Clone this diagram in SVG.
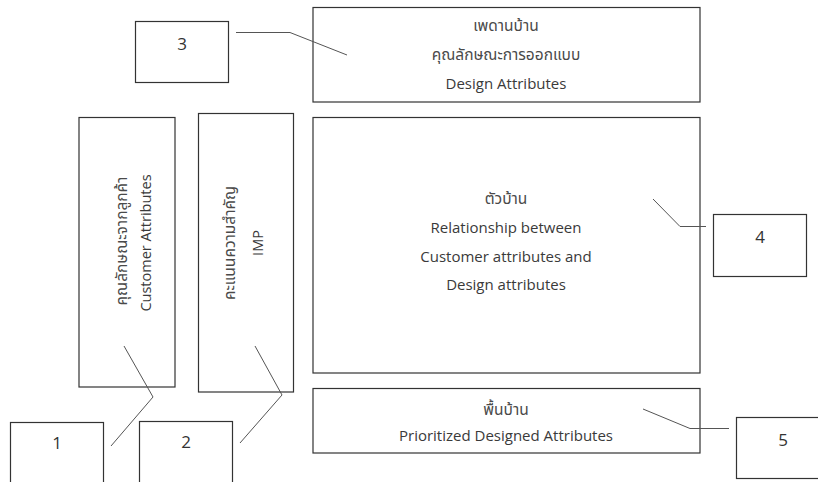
<svg xmlns="http://www.w3.org/2000/svg" width="818" height="482" viewBox="0 0 818 482">
<style>
.box{fill:none;stroke:#333;stroke-width:1.2}
.t{font-family:"Open Sans","Noto Sans","Noto Sans Thai","DejaVu Sans",sans-serif;font-size:15px;fill:#3a3a3a;text-anchor:middle}
.th{font-size:15.5px;fill:#4a4a4a}
.v{font-size:14.5px}
.n{font-family:"Open Sans","Noto Sans",sans-serif;font-size:17px;fill:#333;text-anchor:middle}
.c{fill:none;stroke:#555;stroke-width:1}
</style>
<rect width="818" height="482" fill="#fff"/>
<g id="design-attributes">
<rect class="box" x="313" y="7.5" width="387" height="94.5"/>
<text class="t th" x="506" y="31">เพดานบ้าน</text>
<text class="t th" x="506" y="60">คุณลักษณะการออกแบบ</text>
<text class="t" x="506" y="89">Design Attributes</text>
</g>
<g id="relationship">
<rect class="box" x="313" y="117.5" width="387" height="255.5"/>
<text class="t th" x="506" y="204">ตัวบ้าน</text>
<text class="t" x="506" y="233">Relationship between</text>
<text class="t" x="506" y="262">Customer attributes and</text>
<text class="t" x="506" y="290">Design attributes</text>
</g>
<g id="prioritized">
<rect class="box" x="313" y="388.5" width="387" height="64.5"/>
<text class="t th" x="506" y="415">พื้นบ้าน</text>
<text class="t" x="506" y="441">Prioritized Designed Attributes</text>
</g>
<g id="customer-attributes">
<rect class="box" x="79" y="117.5" width="96" height="269.5"/>
<text class="t th" transform="translate(127 241) rotate(-90)">คุณลักษณะจากลูกค้า</text>
<text class="t v" transform="translate(151 243) rotate(-90)">Customer Attributes</text>
</g>
<g id="imp">
<rect class="box" x="198.5" y="113.5" width="95" height="278.5"/>
<text class="t th" transform="translate(235 243) rotate(-90)">คะแนนความสำคัญ</text>
<text class="t v" transform="translate(263 243) rotate(-90)">IMP</text>
</g>
<g id="n1"><rect class="box" x="10.5" y="422.5" width="93" height="62"/><text class="n" x="57" y="449">1</text></g>
<g id="n2"><rect class="box" x="139.5" y="421.5" width="93" height="62"/><text class="n" x="186" y="448">2</text></g>
<g id="n3"><rect class="box" x="135.5" y="21.5" width="93" height="61"/><text class="n" x="182" y="50">3</text></g>
<g id="n4"><rect class="box" x="713.5" y="214.5" width="93" height="62"/><text class="n" x="760" y="243">4</text></g>
<g id="n5"><rect class="box" x="736.5" y="417.5" width="93" height="61"/><text class="n" x="783" y="446">5</text></g>
<g id="connectors">
<polyline class="c" points="236,32.5 290,32.5 347,55"/>
<polyline class="c" points="653,199 680,226.5 706,226.5"/>
<polyline class="c" points="643,409 690,428.5 729,428.5"/>
<polyline class="c" points="124,346 153,397 111,446"/>
<polyline class="c" points="255,346 282,395 240,443"/>
</g>
</svg>
